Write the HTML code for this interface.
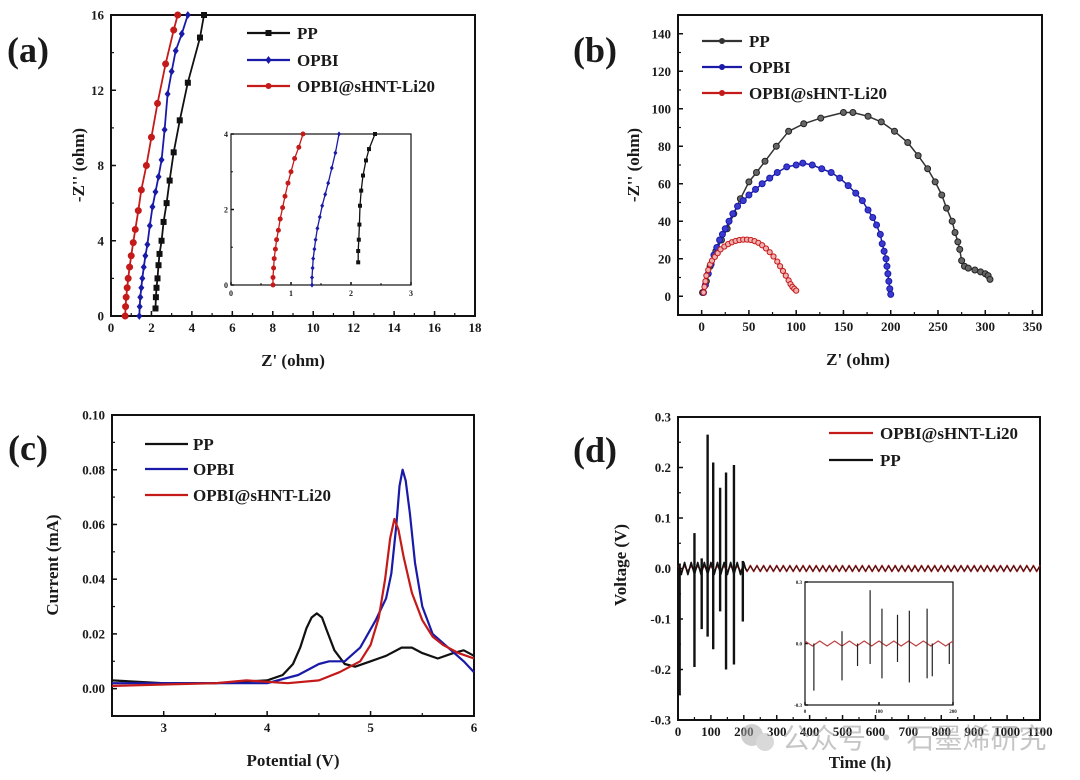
<!DOCTYPE html>
<html><head><meta charset="utf-8"><style>
html,body{margin:0;padding:0;background:#fff;}
svg{display:block;font-family:"Liberation Serif",serif;font-weight:bold;}
</style></head><body>
<svg id="fig" width="1080" height="780" viewBox="0 0 1080 780" xmlns="http://www.w3.org/2000/svg"></svg>
<script>
// ---------- DATA ----------
// Panel (a) main
const aPPx=[2.2,2.22,2.25,2.3,2.35,2.4,2.5,2.6,2.75,2.9,3.1,3.4,3.8,4.4,4.6];
const aPPy=[0.4,1,1.5,2,2.7,3.3,4,5,6,7.2,8.7,10.4,12.4,14.8,16];
const aOPx=[1.4,1.42,1.45,1.5,1.55,1.62,1.7,1.8,1.92,2.05,2.2,2.35,2.5,2.65,2.8,3.0,3.2,3.5,3.8];
const aOPy=[0,0.5,1,1.5,2,2.6,3.2,3.8,4.8,5.8,6.6,7.4,8.3,9.9,11.8,13.0,14.1,15,16];
const aLix=[0.7,0.72,0.75,0.8,0.85,0.92,1.0,1.1,1.2,1.35,1.5,1.75,2.0,2.3,2.7,3.1,3.3];
const aLiy=[0,0.5,1,1.5,2,2.6,3.2,3.9,4.6,5.6,6.7,8,9.5,11.3,13.4,15.2,16];
// Panel (a) inset
const iPPx=[2.12,2.12,2.13,2.14,2.15,2.17,2.2,2.25,2.3,2.4];
const iPPy=[0.6,0.9,1.2,1.6,2.1,2.5,2.9,3.3,3.6,4];
const iOPx=[1.35,1.35,1.36,1.37,1.39,1.41,1.44,1.48,1.52,1.57,1.62,1.68,1.74,1.8];
const iOPy=[0,0.2,0.45,0.7,0.95,1.2,1.5,1.8,2.1,2.4,2.7,3.1,3.5,4];
const iLix=[0.7,0.7,0.71,0.72,0.74,0.76,0.79,0.82,0.86,0.9,0.95,1.0,1.06,1.13,1.2];
const iLiy=[0,0.2,0.45,0.7,0.95,1.2,1.45,1.75,2.05,2.35,2.7,3.0,3.35,3.65,4];
// Panel (b)
const bPPx=[1,5,9,15,21,27,34,41,50,58,67,79,92,108,126,150,160,176,190,204,218,229,239,247,254,259,265,268,271,273,275,278,282,289,295,300,303,305];
const bPPy=[2,8,16,24,30,36,44,52,61,66,72,80,88,92,95,98,98,96,93,88,82,75,68,61,54,47,40,34,29,25,19,16,15,14,13,12,11,9];
const bOPx=[2,4,7,10,13,16,19,22,25,29,33,38,44,50,57,64,72,80,90,100,107,117,127,137,146,155,163,170,176,181,185,189,191,193,195,196,197,198,199,200];
const bOPy=[2,6,12,17,22,26,30,33,36,40,44,48,51,54,57,60,63,66,69,70,71,70,68,66,63,59,55,51,46,42,38,33,28,24,20,16,12,8,4,1];
const bLix=[2,3,4,5,7,9,11,14,17,20,24,28,32,36,40,44,48,52,56,60,64,68,72,76,80,83,86,89,92,94,96,98,100];
const bLiy=[2,5,8,11,14,17,19,21,23,25,26.5,27.8,28.8,29.5,30,30.2,30.2,30,29.4,28.5,27.2,25.5,23.5,21.2,18.5,16,13.5,11,8.5,6.5,5,4,3];
// Panel (c)
const cPPx=[2.5,3,3.5,4,4.15,4.25,4.32,4.38,4.43,4.48,4.53,4.58,4.65,4.75,4.85,5,5.15,5.3,5.4,5.5,5.65,5.8,5.9,6];
const cPPy=[0.003,0.002,0.002,0.003,0.005,0.009,0.015,0.022,0.026,0.0275,0.026,0.021,0.014,0.009,0.008,0.01,0.012,0.015,0.015,0.013,0.011,0.013,0.014,0.012];
const cOPx=[2.5,3,3.5,4,4.3,4.5,4.6,4.75,4.9,5.05,5.15,5.2,5.25,5.28,5.31,5.34,5.38,5.43,5.5,5.6,5.75,5.9,6];
const cOPy=[0.002,0.002,0.002,0.002,0.005,0.009,0.010,0.010,0.015,0.025,0.033,0.042,0.06,0.074,0.080,0.076,0.064,0.046,0.03,0.02,0.015,0.01,0.006];
const cLix=[2.5,3,3.5,3.8,4.2,4.5,4.7,4.9,5.0,5.08,5.14,5.19,5.23,5.27,5.32,5.4,5.5,5.6,5.7,5.85,6];
const cLiy=[0.001,0.0015,0.002,0.003,0.002,0.003,0.006,0.010,0.016,0.026,0.040,0.055,0.062,0.058,0.048,0.035,0.025,0.019,0.016,0.013,0.011];
// Panel (d)
const dSpikeT=[5,50,72,90,107,128,146,170,197];
const dSpikeHi=[0.01,0.07,0.02,0.265,0.21,0.16,0.19,0.205,0.015];
const dSpikeLo=[-0.25,-0.195,-0.12,-0.135,-0.16,-0.085,-0.2,-0.19,-0.105];
const dCycleHours=20;
const dAmpPP=0.012, dAmpLi=0.006;
const dInsetT=[12,50,71,88,104,125,141,165,172,195];
const dInsetHi=[0.0,0.06,0.0,0.26,0.17,0.14,0.16,0.17,0.0,0.0];
const dInsetLo=[-0.23,-0.18,-0.11,-0.1,-0.17,-0.09,-0.19,-0.17,-0.16,-0.1];

// ---------- helpers ----------
const NS="http://www.w3.org/2000/svg";
const svg=document.getElementById('fig');
function el(tag,attrs,parent){const e=document.createElementNS(NS,tag);for(const k in attrs)e.setAttribute(k,attrs[k]);(parent||svg).appendChild(e);return e;}
function txt(s,x,y,size,anchor,parent,extra){const t=el('text',Object.assign({x:x,y:y,'font-size':size,'text-anchor':anchor||'start',fill:'#1a1a1a'},extra||{}),parent);t.textContent=s;return t;}
function scale(d0,d1,r0,r1){return v=>r0+(v-d0)/(d1-d0)*(r1-r0);}

function axes(name,box,xd,yd,xt,yt,xminor,yminor,fs,fmtx,fmty){
  const g=el('g',{});
  
  
  const X=scale(xd[0],xd[1],box[0],box[2]), Y=scale(yd[0],yd[1],box[3],box[1]);
  const r=el('rect',{x:box[0],y:box[1],width:box[2]-box[0],height:box[3]-box[1],fill:'none',stroke:'#111','stroke-width':fs>10?2:1.2},g);
  
  
  const tl=fs>10?5:3;
  xminor.forEach(v=>{el('line',{x1:X(v),x2:X(v),y1:box[3],y2:box[3]-tl*0.6,stroke:'#111','stroke-width':1.2},g);});
  yminor.forEach(v=>{el('line',{x1:box[0],x2:box[0]+tl*0.6,y1:Y(v),y2:Y(v),stroke:'#111','stroke-width':1.2},g);});
  xt.forEach((v,i)=>{el('line',{x1:X(v),x2:X(v),y1:box[3],y2:box[3]-tl,stroke:'#111','stroke-width':1.5},g);
    const t=txt(fmtx(v),X(v),box[3]+fs+3,fs,'middle',g);
    
    });
  yt.forEach((v,i)=>{el('line',{x1:box[0],x2:box[0]+tl,y1:Y(v),y2:Y(v),stroke:'#111','stroke-width':1.5},g);
    const t=txt(fmty(v),box[0]-(fs>10?7:3),Y(v)+fs*0.35,fs,'end',g);
    
    });
  return {X,Y,g};
}
function line(xs,ys,ax,color,w,name){
  const d=xs.map((v,i)=>(i?'L':'M')+ax.X(v).toFixed(1)+','+ax.Y(ys[i]).toFixed(1)).join('');
  const p=el('path',{d:d,fill:'none',stroke:color,'stroke-width':w,'stroke-linejoin':'round'});
  
  
  return p;
}
function markers(xs,ys,ax,color,shape,size,name,fill){
  const g=el('g',{});
  
  
  xs.forEach((v,i)=>{const x=ax.X(v),y=ax.Y(ys[i]);
    if(shape==='sq')el('rect',{x:x-size,y:y-size,width:2*size,height:2*size,fill:color},g);
    else if(shape==='di')el('path',{d:`M${x},${y-size*1.3}L${x+size},${y}L${x},${y+size*1.3}L${x-size},${y}Z`,fill:color},g);
    else el('circle',{cx:x,cy:y,r:size,fill:fill||color,stroke:color,'stroke-width':1},g);});
}
function legend(items,x0,x1,tx,ys,fs,name){
  const g=el('g',{});
  
  
  items.forEach((it,i)=>{
    const e=el('g',{},g);
    
    
    el('line',{x1:x0,x2:x1,y1:ys[i],y2:ys[i],stroke:it.c,'stroke-width':2.2},e);
    if(it.m){const mx=(x0+x1)/2;
      if(it.m==='sq')el('rect',{x:mx-3,y:ys[i]-3,width:6,height:6,fill:it.c},e);
      else if(it.m==='di')el('path',{d:`M${mx},${ys[i]-4}L${mx+3},${ys[i]}L${mx},${ys[i]+4}L${mx-3},${ys[i]}Z`,fill:it.c},e);
      else el('circle',{cx:mx,cy:ys[i],r:3,fill:it.c},e);}
    txt(it.t,tx,ys[i]+6,fs,'start',e);
  });
}
function title(s,x,y,fs,rot,name){
  const t=txt(s,x,y,fs,'middle',null,rot?{transform:`rotate(-90 ${x} ${y})`}:{});
  
  
}
function range(a,b,s){const r=[];for(let v=a;v<=b+1e-9;v+=s)r.push(+v.toFixed(6));return r;}
const BLK='#111',BLU='#1a1aa8',RED='#c41a1a';

// ---------- Panel (a) ----------
let ax=axes('panel-a',[111,15,475,316],[0,18],[0,16],range(0,18,2),range(0,16,4),range(0,18,1),range(0,16,2),13,v=>String(v),v=>String(v));
line(aPPx,aPPy,ax,BLK,1.8,'a-pp-line');markers(aPPx,aPPy,ax,BLK,'sq',3,'a-pp-markers');
line(aOPx,aOPy,ax,BLU,1.8,'a-opbi-line');markers(aOPx,aOPy,ax,BLU,'di',3,'a-opbi-markers');
line(aLix,aLiy,ax,RED,1.8,'a-li20-line');markers(aLix,aLiy,ax,RED,'ci',3,'a-li20-markers');
ax=axes('panel-a-inset',[231,134,411,285],[0,3],[0,4],[0,1,2,3],[0,2,4],[0.5,1.5,2.5],[1,3],8,v=>String(v),v=>String(v));
line(iPPx,iPPy,ax,BLK,1.3,'a-inset-pp');markers(iPPx,iPPy,ax,BLK,'sq',2,'a-inset-pp-markers');
line(iOPx,iOPy,ax,BLU,1.3,'a-inset-opbi');markers(iOPx,iOPy,ax,BLU,'di',2,'a-inset-opbi-markers');
line(iLix,iLiy,ax,RED,1.3,'a-inset-li20');markers(iLix,iLiy,ax,RED,'ci',2,'a-inset-li20-markers');
legend([{t:'PP',c:BLK,m:'sq'},{t:'OPBI',c:BLU,m:'di'},{t:'OPBI@sHNT-Li20',c:RED,m:'ci'}],247,290,297,[33,60,86],17,'a-legend');
title("Z' (ohm)",293,366,17,false,'a-x-axis-title');
title("-Z'' (ohm)",84,165,17,true,'a-y-axis-title');
title("(a)",28,62,36,false,'panel-a-label');

// ---------- Panel (b) ----------
ax=axes('panel-b',[678,15,1042,315],[-25,360],[-10,150],range(0,350,50),range(0,140,20),range(0,350,25),range(0,140,10),13,v=>String(v),v=>String(v));
line(bPPx,bPPy,ax,'#333',1.5,'b-pp-line');markers(bPPx,bPPy,ax,'#222','ci',3,'b-pp-markers','#666');
line(bOPx,bOPy,ax,BLU,1.5,'b-opbi-line');markers(bOPx,bOPy,ax,BLU,'ci',3,'b-opbi-markers','#3a3ad0');
line(bLix,bLiy,ax,RED,1.5,'b-li20-line');markers(bLix,bLiy,ax,RED,'ci',2.6,'b-li20-markers','#f0b0b0');
legend([{t:'PP',c:'#333',m:'ci'},{t:'OPBI',c:BLU,m:'ci'},{t:'OPBI@sHNT-Li20',c:RED,m:'ci'}],702,742,749,[41,67,93],17,'b-legend');
title("Z' (ohm)",858,365,17,false,'b-x-axis-title');
title("-Z'' (ohm)",639,165,17,true,'b-y-axis-title');
title("(b)",595,62,36,false,'panel-b-label');

// ---------- Panel (c) ----------
ax=axes('panel-c',[112,415,474,716],[2.5,6],[-0.01,0.10],[3,4,5,6],range(0,0.10,0.02),[3.5,4.5,5.5],range(-0.01,0.10,0.01),13,v=>String(v),v=>v.toFixed(2));
line(cPPx,cPPy,ax,BLK,2.2,'c-pp-line');
line(cOPx,cOPy,ax,BLU,2.2,'c-opbi-line');
line(cLix,cLiy,ax,RED,2.2,'c-li20-line');
legend([{t:'PP',c:BLK},{t:'OPBI',c:BLU},{t:'OPBI@sHNT-Li20',c:RED}],145,188,193,[444,469,495],17,'c-legend');
title("Potential (V)",293,766,17,false,'c-x-axis-title');
title("Current (mA)",58,565,17,true,'c-y-axis-title');
title("(c)",28,460,36,false,'panel-c-label');

// ---------- Panel (d) ----------
ax=axes('panel-d',[678,417,1040,720],[0,1100],[-0.3,0.3],range(0,1100,100),range(-0.3,0.3,0.1),range(50,1050,100),range(-0.25,0.25,0.1),13,v=>String(v),v=>(Math.abs(v)<1e-9?'0.0':v.toFixed(1)));
(function(){
  let xs=[],ys=[],xs2=[],ys2=[];
  for(let t=0;t<=1100;t+=dCycleHours/4){const ph=Math.round(t/(dCycleHours/4))%4;const s=ph===0?1:ph===2?-1:0;
    xs.push(t);ys.push(s*(t<210?dAmpPP:dAmpLi*0.8));xs2.push(t);ys2.push(s*dAmpLi);}
  line(xs2,ys2,ax,'#b02020',1.6,'d-li20-line');
  const n1=xs.filter(t=>t<=210).length;
  line(xs.slice(0,n1),ys.slice(0,n1),ax,BLK,1.6,'d-pp-baseline');
  line(xs.slice(n1-1),ys.slice(n1-1),ax,'#3a1010',0.9,'d-pp-baseline-late');
  const g=el('g',{});
  
  
  dSpikeT.forEach((t,i)=>{el('line',{x1:ax.X(t),x2:ax.X(t),y1:ax.Y(dSpikeHi[i]),y2:ax.Y(dSpikeLo[i]),stroke:BLK,'stroke-width':2.4},g);});
})();
ax=axes('panel-d-inset',[805,582,953,705],[0,200],[-0.3,0.3],[0,100,200],[-0.3,0,0.3],[],[],5,v=>String(v),v=>v.toFixed(1));
(function(){
  let xs=[],ys=[];
  for(let t=0;t<=200;t+=dCycleHours/4){const ph=Math.round(t/(dCycleHours/4))%4;xs.push(t);ys.push(ph===0?0.012:ph===2?-0.012:0);}
  line(xs,ys,ax,'#c04040',1.2,'d-inset-wave');
  const g=el('g',{});
  
  
  dInsetT.forEach((t,i)=>{el('line',{x1:ax.X(t),x2:ax.X(t),y1:ax.Y(dInsetHi[i]),y2:ax.Y(dInsetLo[i]),stroke:'#222','stroke-width':1.2},g);});
})();
legend([{t:'OPBI@sHNT-Li20',c:RED},{t:'PP',c:BLK}],829,873,880,[433,460],17,'d-legend');
title("Time (h)",860,768,17,false,'d-x-axis-title');
title("Voltage (V)",626,565,17,true,'d-y-axis-title');
title("(d)",595,462,36,false,'panel-d-label');

// watermark
const wm=el('g',{opacity:0.55});


el('circle',{cx:752,cy:735,r:11,fill:'#aaa'},wm);
el('circle',{cx:765,cy:742,r:9,fill:'#bbb'},wm);
txt('公众号 · 石墨烯研究',782,748,28,'start',wm,{'font-family':'"Noto Sans CJK SC",sans-serif','font-weight':'normal',fill:'#999'});
</script>
</body></html>
